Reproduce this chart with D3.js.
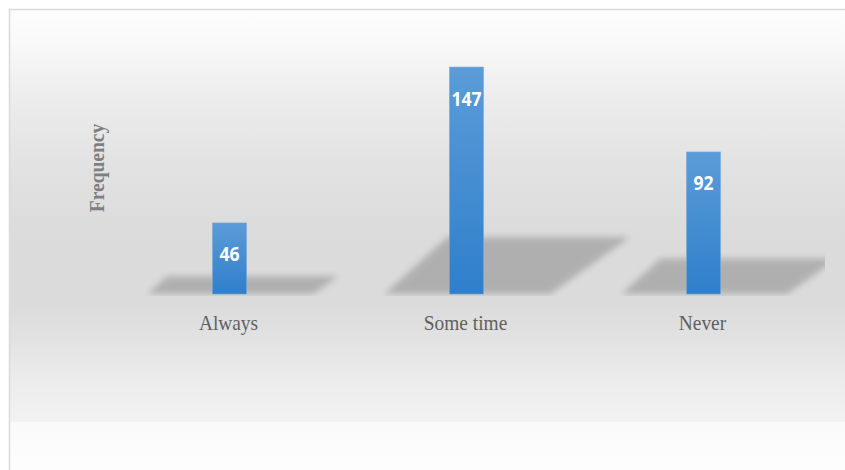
<!DOCTYPE html>
<html>
<head>
<meta charset="utf-8">
<script src="https://cdn.jsdelivr.net/npm/d3@7/dist/d3.min.js"></script>
<style>
  html, body { margin: 0; padding: 0; background: #ffffff; }
  svg { display: block; }
</style>
</head>
<body>
<svg id="chart" width="845" height="470"></svg>
<script>
// Survey responses: how often the behaviour occurs
const categories = ["Always", "Some time", "Never"];
const frequencies = [46, 147, 92];
const yDomainMax = 160;
const yAxisTitle = "Frequency";

const W = 845, H = 470;
const svg = d3.select("#chart");
const defs = svg.append("defs");

// Chart-area background: soft grey band fading to white above and below
const bg = defs.append("linearGradient")
  .attr("id", "bgGrad").attr("gradientUnits", "userSpaceOnUse")
  .attr("x1", 0).attr("y1", 9).attr("x2", 0).attr("y2", 422);
[[0, "#fdfdfd"], [0.08, "#f9f9f9"], [0.22, "#ececec"], [0.38, "#e2e2e2"],
 [0.55, "#dbdbdb"], [0.71, "#dbdbdb"], [0.8, "#e2e2e2"], [0.9, "#ececec"], [1, "#f2f2f2"]]
  .forEach(([o, c]) => bg.append("stop").attr("offset", o).attr("stop-color", c));

const bg2 = defs.append("linearGradient")
  .attr("id", "bgGrad2").attr("x1", 0).attr("y1", 0).attr("x2", 0).attr("y2", 1);
bg2.append("stop").attr("offset", 0).attr("stop-color", "#fafafa");
bg2.append("stop").attr("offset", 1).attr("stop-color", "#fdfdfd");

// Bar fill: lighter blue at the top, deeper blue at the base
const barGrad = defs.append("linearGradient")
  .attr("id", "barGrad").attr("x1", 0).attr("y1", 0).attr("x2", 0).attr("y2", 1);
barGrad.append("stop").attr("offset", 0).attr("stop-color", "#5b9cd8");
barGrad.append("stop").attr("offset", 1).attr("stop-color", "#2f7fcb");

const blur = defs.append("filter").attr("id", "shadowBlur")
  .attr("x", "-20%").attr("y", "-50%").attr("width", "140%").attr("height", "200%");
blur.append("feGaussianBlur").attr("stdDeviation", 3);

// Plot area
const plot = { left: 111, right: 822, top: 47, bottom: 294 };

defs.append("clipPath").attr("id", "plotClip")
  .append("rect").attr("x", 100).attr("y", 0).attr("width", 825 - 100).attr("height", 296);

svg.append("rect").attr("x", 9).attr("y", 9).attr("width", W).attr("height", 413)
  .attr("fill", "url(#bgGrad)");
svg.append("rect").attr("x", 9).attr("y", 422).attr("width", W).attr("height", H - 422)
  .attr("fill", "url(#bgGrad2)");
svg.append("rect").attr("x", 9.5).attr("y", 9.5).attr("width", W + 10).attr("height", H + 10)
  .attr("fill", "none").attr("stroke", "#d9d9d9").attr("stroke-width", 1.5);

const x = d3.scaleBand().domain(categories).range([plot.left, plot.right]).padding(0);
const y = d3.scaleLinear().domain([0, yDomainMax]).range([plot.bottom, plot.top]);

const data = categories.map((c, i) => ({ cat: c, value: frequencies[i] }));
const barW = x.bandwidth() * 0.143;
const cxOf = d => x(d) + x.bandwidth() / 2;

// Cast shadows lying on the floor behind each bar
const shadowG = svg.append("g").attr("clip-path", "url(#plotClip)");
shadowG.selectAll("path").data(data).join("path")
  .attr("d", d => {
    const cx = cxOf(d.cat);
    const y0 = y(0);
    const sh = 0.25 * (y0 - y(d.value));
    const bl = cx - 82, br = cx + 84;
    const tl = bl + 1.1 * sh, tr = br + 1.4 * sh;
    return `M${bl},${y0} L${br},${y0} L${tr},${y0 - sh} L${tl},${y0 - sh} Z`;
  })
  .attr("fill", "#aaaaaa")
  .attr("opacity", 0.88)
  .attr("filter", "url(#shadowBlur)");

// Bars
svg.append("g").selectAll("rect").data(data).join("rect")
  .attr("x", d => cxOf(d.cat) - barW / 2)
  .attr("y", d => y(d.value))
  .attr("width", barW)
  .attr("height", d => y(0) - y(d.value))
  .attr("fill", "url(#barGrad)")
  .attr("stroke", "#6ea6dc")
  .attr("stroke-width", 0.6);

// Value labels inside the bar tops
svg.append("g").selectAll("text").data(data).join("text")
  .attr("transform", d => `translate(${cxOf(d.cat)},${y(d.value) + 31}) scale(0.88,1)`)
  .attr("text-anchor", "middle")
  .attr("dominant-baseline", "central")
  .attr("font-family", "'Open Sans', sans-serif")
  .attr("font-weight", 700)
  .attr("font-size", 20)
  .attr("fill", "#ffffff")
  .text(d => d.value);

// Category axis labels
svg.append("g").selectAll("text").data(categories).join("text")
  .attr("transform", d => `translate(${cxOf(d) - 1},330) scale(0.97,1.08)`)
  .attr("text-anchor", "middle")
  .attr("font-family", "'Liberation Serif', 'Times New Roman', serif")
  .attr("font-size", 20)
  .attr("fill", "#606060")
  .text(d => d);

// Vertical axis title
svg.append("text")
  .attr("transform", "translate(104,168) rotate(-90) scale(1,1.05)")
  .attr("text-anchor", "middle")
  .attr("font-family", "'Liberation Serif', 'Times New Roman', serif")
  .attr("font-weight", 700)
  .attr("font-size", 19.5)
  .attr("fill", "#7f7f7f")
  .text(yAxisTitle);
</script>
</body>
</html>
